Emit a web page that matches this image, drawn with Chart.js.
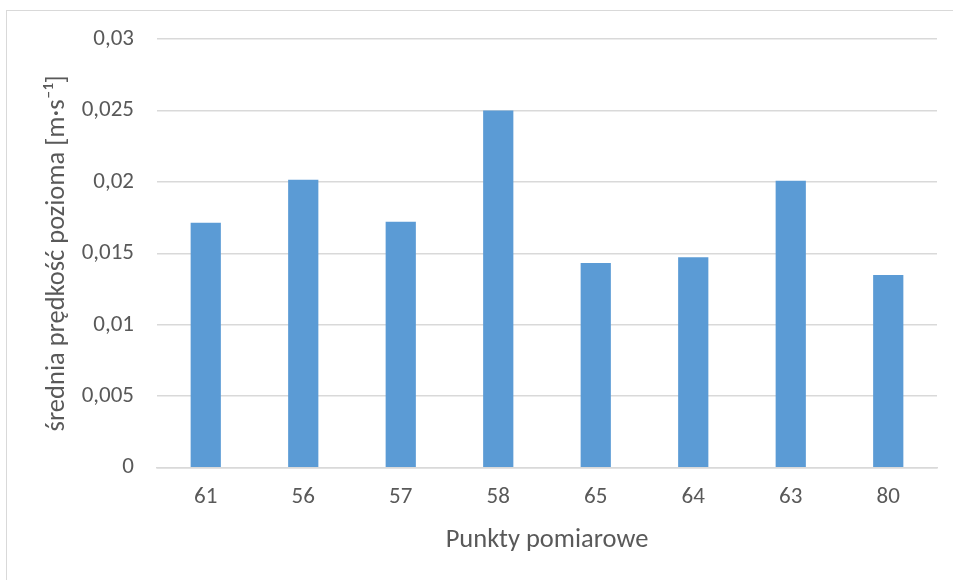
<!DOCTYPE html>
<html lang="pl">
<head>
<meta charset="utf-8">
<title>Średnia prędkość pozioma</title>
<script src="https://cdn.jsdelivr.net/npm/chart.js@4/dist/chart.umd.min.js"></script>
<style>
  html, body { margin: 0; padding: 0; background: #fff; }
  body { width: 953px; height: 580px; overflow: hidden; position: relative; }
  #ramka {
    position: absolute; left: 6px; top: 10px;
    width: 960px; height: 580px;
    border: 1px solid #d9d9d9; box-sizing: border-box;
  }
  #wykres-box { position: absolute; left: 7px; top: 11px; width: 946px; height: 569px; }
</style>
</head>
<body>
<div id="ramka"></div>
<div id="wykres-box"><canvas id="wykres"></canvas></div>
<script>
// punkty pomiarowe i średnie prędkości [m/s]
const punkty = ['61', '56', '57', '58', '65', '64', '63', '80'];
const predkosci = [0.01714, 0.02015, 0.01721, 0.0250, 0.01433, 0.01473, 0.02008, 0.01349];
const etykietyY = ['0', '0,005', '0,01', '0,015', '0,02', '0,025', '0,03'];

const kolorTekstu = '#595959';
const kolorSiatki = '#d9d9d9';
const czcionka = "Carlito, Calibri, 'Open Sans', sans-serif";

new Chart(document.getElementById('wykres'), {
    type: 'bar',
    data: {
        labels: punkty,
        datasets: [{
            data: predkosci,
            backgroundColor: '#5b9bd5',
            borderWidth: 0,
            categoryPercentage: 1,
            barPercentage: 0.31
        }]
    },
    options: {
        responsive: true,
        maintainAspectRatio: false,
        animation: false,
        layout: { padding: { top: 28, right: 16, bottom: 0, left: 0 } },
        plugins: { legend: { display: false }, tooltip: { enabled: false } },
        scales: {
            x: {
                grid: { display: false, drawTicks: false },
                border: { color: kolorSiatki, width: 1.5 },
                ticks: { color: kolorTekstu, padding: 16, font: { family: czcionka, size: 23 } },
                title: {
                    display: true, text: 'Punkty pomiarowe', color: kolorTekstu,
                    padding: 24, font: { family: czcionka, size: 26.5 }
                },
                afterFit: s => { s.height = 112.3; s.paddingLeft = 0; s.paddingRight = 0; }
            },
            y: {
                min: 0, max: 0.03,
                grid: { color: kolorSiatki, lineWidth: 1.5, drawTicks: false },
                border: { display: false },
                ticks: {
                    stepSize: 0.005, padding: 23, color: kolorTekstu,
                    font: { family: czcionka, size: 23 },
                    callback: (v, i) => etykietyY[i]
                },
                title: {
                    display: true, text: 'średnia prędkość pozioma [m·s⁻¹]', color: kolorTekstu,
                    padding: 34, font: { family: czcionka, size: 26.5 }
                },
                afterFit: s => { s.width = 150; s.paddingTop = 0; s.paddingBottom = 0; }
            }
        }
    }
});
</script>
</body>
</html>
